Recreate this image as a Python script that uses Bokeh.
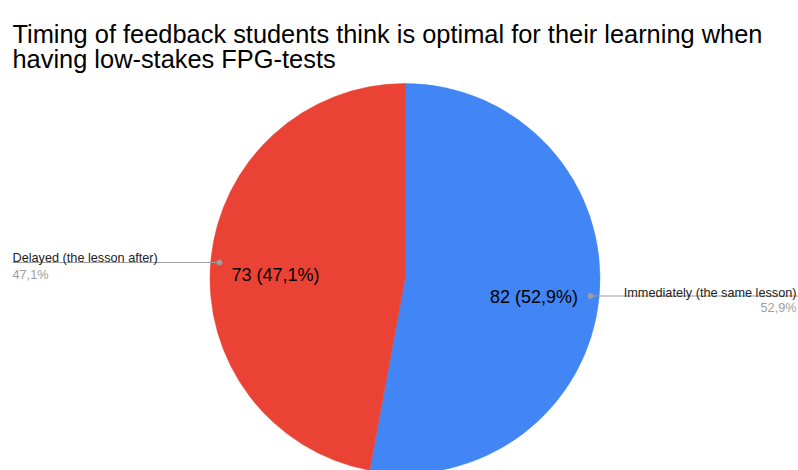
import math
from bokeh.plotting import figure
from bokeh.models import Range1d, ColumnDataSource
from bokeh.core.properties import value
from bokeh.embed import file_html
from bokeh.resources import INLINE

# ---- data ----
title_lines = ["Timing of feedback students think is optimal for their learning when",
               "having low-stakes FPG-tests"]
categories = ["Immediately (the same lesson)", "Delayed (the lesson after)"]
counts = [82, 73]
pct_labels = ["52,9%", "47,1%"]
colors = ["#4285F4", "#EA4335"]

W, H = 798, 470
FONT = "Liberation Sans"

p = figure(width=W, height=H, output_backend="svg", toolbar_location=None,
           x_range=Range1d(0, W), y_range=Range1d(0, H))
p.axis.visible = False
p.grid.visible = False
p.outline_line_color = None
p.min_border = 0
p.background_fill_color = "white"

def Y(ref_y):
    return 470 - ref_y

# pie
cx, cy, r = 404.5, Y(278), 195
total = sum(counts)
starts, ends = [], []
a = math.pi / 2
for c in counts:
    starts.append(a)
    a -= 2 * math.pi * c / total
    ends.append(a)
src = ColumnDataSource(dict(start=starts, end=ends, color=colors))
p.wedge(x=cx, y=cy, radius=r, start_angle="start", end_angle="end", direction="clock",
        fill_color="color", line_color="color", line_width=0.5, source=src)

# inside labels
inside_text = [f"{c} ({pc})" for c, pc in zip(counts, pct_labels)]
p.text(x=[533.5, 275], y=[Y(296), Y(274)], text=inside_text, text_font=value(FONT),
       text_font_size="18px", text_color="#000000", text_align="center",
       text_baseline="alphabetic")

# leader lines
p.segment(x0=[590, 12], y0=[Y(295.5), Y(262)], x1=[798, 219], y1=[Y(295.5), Y(262)],
          line_color="#9e9e9e", line_width=1.2)
p.scatter(x=[590, 219], y=[Y(295.5), Y(262)], size=5, color="#9e9e9e")

# outside labels
p.text(x=[796], y=[Y(292)], text=[categories[0]], text_font=value(FONT),
       text_font_size="12.7px", text_color="#222222", text_align="right", text_baseline="alphabetic")
p.text(x=[796], y=[Y(307)], text=[pct_labels[0]], text_font=value(FONT),
       text_font_size="12.7px", text_color="#9e9e9e", text_align="right", text_baseline="alphabetic")
p.text(x=[12], y=[Y(257)], text=[categories[1]], text_font=value(FONT),
       text_font_size="12.7px", text_color="#222222", text_align="left", text_baseline="alphabetic")
p.text(x=[12], y=[Y(274)], text=[pct_labels[1]], text_font=value(FONT),
       text_font_size="12.7px", text_color="#9e9e9e", text_align="left", text_baseline="alphabetic")

# title
p.text(x=[12, 12], y=[Y(33), Y(58.5)], text=title_lines, text_font=value(FONT),
       text_font_size="25.4px", text_color="#000000", text_align="left", text_baseline="alphabetic")

open("out.html", "w").write(file_html(p, INLINE))
